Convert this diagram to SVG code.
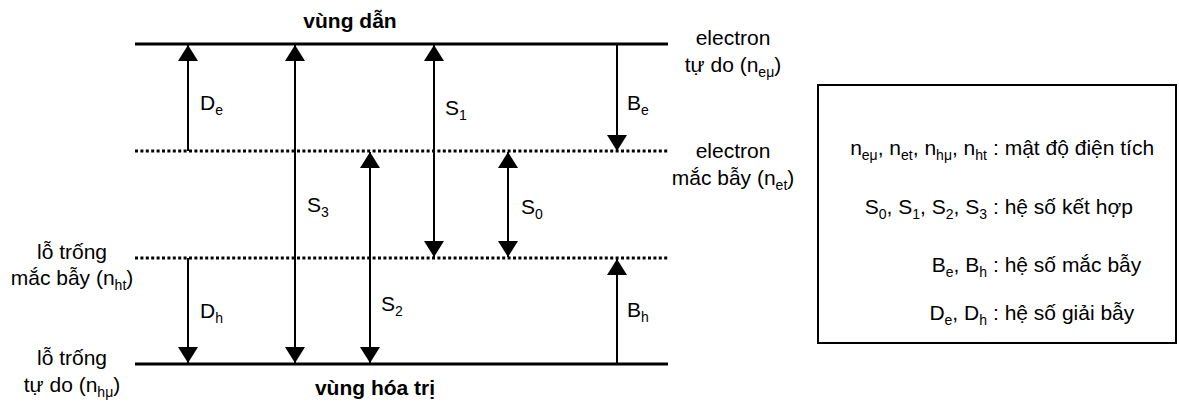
<svg xmlns="http://www.w3.org/2000/svg" width="1179" height="408" viewBox="0 0 1179 408">
  <style>
    text { font-family: "Liberation Sans", Arial, sans-serif; font-size: 21px; fill: #000; }
    .b { font-weight: bold; }
    .sub { font-size: 14px; }
    .solid { stroke: #000; stroke-width: 3; fill: none; }
    .dot { stroke: #000; stroke-width: 3; stroke-dasharray: 3 2.4; fill: none; }
    .arr { stroke: #000; stroke-width: 2; fill: none; }
    .mid { text-anchor: middle; }
    .end { text-anchor: end; }
  </style>
  <defs>
    <marker id="head" viewBox="0 0 16 20" refX="16" refY="10" markerWidth="16" markerHeight="20" markerUnits="userSpaceOnUse" orient="auto-start-reverse">
      <path d="M0,0 L16,10 L0,20 Z" fill="#000"/>
    </marker>
  </defs>

  <g id="levels">
    <line class="solid" x1="135" y1="44" x2="668" y2="44"/>
    <line class="dot" x1="135" y1="151" x2="668" y2="151"/>
    <line class="dot" x1="135" y1="258" x2="668" y2="258"/>
    <line class="solid" x1="135" y1="364" x2="668" y2="364"/>
  </g>

  <g id="connectors">
    <path id="De" class="arr" d="M188,151 L188,45" marker-end="url(#head)"/>
    <path id="S3" class="arr" d="M295,45 L295,363" marker-start="url(#head)" marker-end="url(#head)"/>
    <path id="S2" class="arr" d="M370,152 L370,363" marker-start="url(#head)" marker-end="url(#head)"/>
    <path id="S1" class="arr" d="M434,45 L434,257" marker-start="url(#head)" marker-end="url(#head)"/>
    <path id="S0" class="arr" d="M508,152 L508,257" marker-start="url(#head)" marker-end="url(#head)"/>
    <path id="Be" class="arr" d="M617,44 L617,151" marker-end="url(#head)"/>
    <path id="Dh" class="arr" d="M188,258 L188,363" marker-end="url(#head)"/>
    <path id="Bh" class="arr" d="M617,364 L617,259" marker-end="url(#head)"/>
  </g>

  <g id="arrow-labels">
    <text x="200" y="110">D<tspan class="sub" dy="5">e</tspan></text>
    <text x="445" y="115">S<tspan class="sub" dy="5">1</tspan></text>
    <text x="627" y="110">B<tspan class="sub" dy="5">e</tspan></text>
    <text x="307" y="212">S<tspan class="sub" dy="5">3</tspan></text>
    <text x="521" y="214">S<tspan class="sub" dy="5">0</tspan></text>
    <text x="200" y="318">D<tspan class="sub" dy="5">h</tspan></text>
    <text x="381" y="311">S<tspan class="sub" dy="5">2</tspan></text>
    <text x="627" y="317">B<tspan class="sub" dy="5">h</tspan></text>
  </g>

  <g id="band-labels">
    <text class="b mid" x="350" y="28">vùng dẫn</text>
    <text class="b mid" x="375" y="395">vùng hóa trị</text>
  </g>

  <g id="level-labels-right">
    <text class="mid" x="733" y="45">electron</text>
    <text class="mid" x="733" y="72">tự do (n<tspan class="sub" dy="5">eμ</tspan><tspan dy="-5">)</tspan></text>
    <text class="mid" x="733" y="158">electron</text>
    <text class="mid" x="733" y="185">mắc bẫy (n<tspan class="sub" dy="5">et</tspan><tspan dy="-5">)</tspan></text>
  </g>

  <g id="level-labels-left">
    <text class="mid" x="72" y="259">lỗ trống</text>
    <text class="mid" x="72" y="285">mắc bẫy (n<tspan class="sub" dy="5">ht</tspan><tspan dy="-5">)</tspan></text>
    <text class="mid" x="72" y="365">lỗ trống</text>
    <text class="mid" x="72" y="392">tự do (n<tspan class="sub" dy="5">hμ</tspan><tspan dy="-5">)</tspan></text>
  </g>

  <g id="legend">
    <rect x="818" y="85" width="358" height="258" fill="none" stroke="#000" stroke-width="2"/>
    <text class="end" x="987" y="155">n<tspan class="sub" dy="5">eμ</tspan><tspan dy="-5">, n</tspan><tspan class="sub" dy="5">et</tspan><tspan dy="-5">, n</tspan><tspan class="sub" dy="5">hμ</tspan><tspan dy="-5">, n</tspan><tspan class="sub" dy="5">ht</tspan></text>
    <text x="993" y="155">: mật độ điện tích</text>
    <text class="end" x="987" y="214">S<tspan class="sub" dy="5">0</tspan><tspan dy="-5">, S</tspan><tspan class="sub" dy="5">1</tspan><tspan dy="-5">, S</tspan><tspan class="sub" dy="5">2</tspan><tspan dy="-5">, S</tspan><tspan class="sub" dy="5">3</tspan></text>
    <text x="993" y="214">: hệ số kết hợp</text>
    <text class="end" x="987" y="272">B<tspan class="sub" dy="5">e</tspan><tspan dy="-5">, B</tspan><tspan class="sub" dy="5">h</tspan></text>
    <text x="993" y="272">: hệ số mắc bẫy</text>
    <text class="end" x="987" y="320">D<tspan class="sub" dy="5">e</tspan><tspan dy="-5">, D</tspan><tspan class="sub" dy="5">h</tspan></text>
    <text x="993" y="320">: hệ số giải bẫy</text>
  </g>
</svg>
